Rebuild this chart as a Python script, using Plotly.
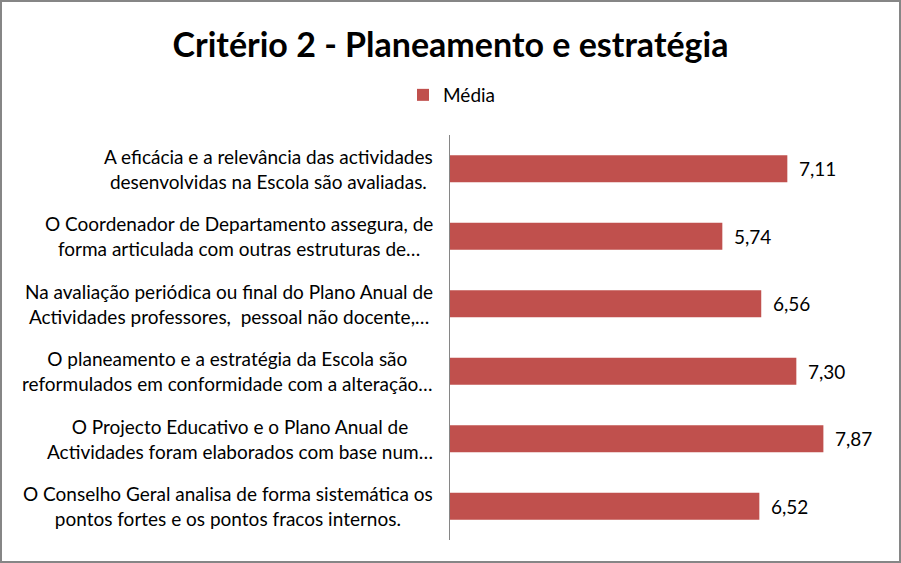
import plotly.graph_objects as go

categories = [
    "A eficácia e a relevância das actividades<br>desenvolvidas na Escola são avaliadas.",
    "O Coordenador de Departamento assegura, de<br>forma articulada com outras estruturas de…",
    "Na avaliação periódica ou final do Plano Anual de<br>Actividades professores,  pessoal não docente,…",
    "O planeamento e a estratégia da Escola são<br>reformulados em conformidade com a alteração…",
    "O Projecto Educativo e o Plano Anual de<br>Actividades foram elaborados com base num…",
    "O Conselho Geral analisa de forma sistemática os<br>pontos fortes e os pontos fracos internos.",
]
values = [7.11, 5.74, 6.56, 7.30, 7.87, 6.52]
series_name = "Média"
title_text = "Critério 2 - Planeamento e estratégia"

W, H = 901, 563
L, R, T, B = 450, 24, 135, 23
pw = W - L - R
ph = H - T - B

FONT = "Lato"
BAR = "#C0504D"

keys = [f"c{i}" for i in range(len(categories))]

fig = go.Figure()
fig.add_trace(go.Bar(
    y=keys, x=values, orientation="h", name=series_name,
    marker=dict(color=BAR, line=dict(width=0)),
    width=0.4, showlegend=True,
))

annotations = []
for k, lab in zip(keys, categories):
    annotations.append(dict(
        x=0, xref="paper", y=k, yref="y", text=lab, showarrow=False,
        xanchor="right", yanchor="middle", align="center", xshift=-15,
        font=dict(family=FONT, size=19, color="#000000"),
    ))
for k, v in zip(keys, values):
    annotations.append(dict(
        x=v, xref="x", y=k, yref="y", text=f"{v:.2f}".replace(".", ","),
        showarrow=False, xanchor="left", yanchor="middle", xshift=10,
        font=dict(family=FONT, size=19, color="#000000"),
    ))

fig.update_layout(
    width=W, height=H,
    margin=dict(l=L, r=R, t=T, b=B, pad=0),
    paper_bgcolor="white", plot_bgcolor="white",
    title=dict(text=f"<b>{title_text}</b>", x=0.5, xref="container", xanchor="center",
               y=1 - 45 / H, yref="container", yanchor="middle",
               font=dict(family=FONT, size=34, color="#000000")),
    legend=dict(orientation="h", x=(452 - L) / pw, xanchor="center",
                y=(H - B - 95) / ph, yanchor="middle",
                font=dict(family=FONT, size=19, color="#000000"),
                bgcolor="rgba(0,0,0,0)"),
    xaxis=dict(range=[0, 9], showgrid=False, zeroline=False, showticklabels=False,
               showline=False, ticks=""),
    yaxis=dict(categoryorder="array", categoryarray=keys, autorange="reversed",
               showgrid=False, zeroline=False, showticklabels=False,
               showline=True, linecolor="#868686", linewidth=1, ticks=""),
    annotations=annotations,
    bargap=0.6,
    shapes=[dict(type="rect", xref="paper", yref="paper",
                 x0=(-L + 1) / pw, x1=(pw + R - 1) / pw,
                 y0=(-B + 1) / ph, y1=(ph + T - 1) / ph,
                 line=dict(color="#868686", width=2), layer="above")],
)

fig.write_html("out.html")
